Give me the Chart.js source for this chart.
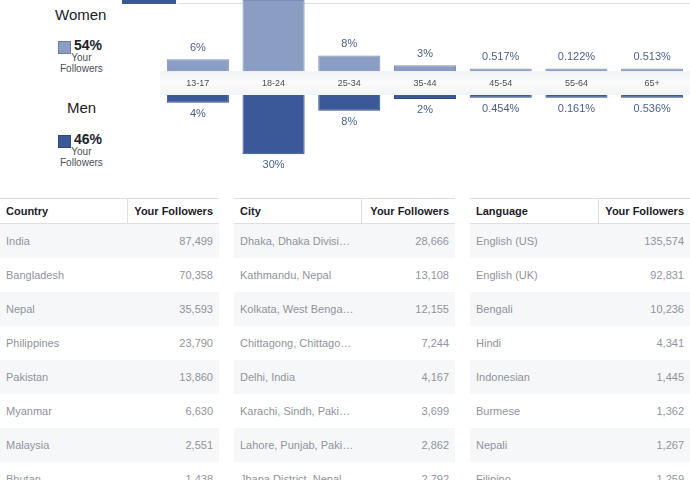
<!DOCTYPE html><html><head><meta charset="utf-8">
<script src="https://cdn.jsdelivr.net/npm/chart.js@4"></script>
<style>
body{margin:0;width:690px;height:480px;overflow:hidden;background:#fff;font-family:Arial,"Liberation Sans",sans-serif;position:relative}
#c{position:absolute;left:0;top:0}
.lg{position:absolute;color:#1d2129;text-align:center}
table{position:absolute;top:198px;border-collapse:collapse;font-size:11px;color:#90949c}
td,th{height:34px;padding:0 6px;white-space:nowrap;overflow:hidden}
th{height:24px;font-weight:bold;color:#1d2129;text-align:left;border-top:1px solid #dddfe2;border-bottom:1px solid #dddfe2}
tr:nth-child(even) td{background:#f6f7f9}
.r{text-align:right}
</style></head><body>
<div style="position:absolute;left:122px;top:0;width:54px;height:4px;background:#3b5998"></div>
<div style="position:absolute;left:178px;top:3px;width:512px;height:1px;background:#dddfe2"></div>
<div class="lg" style="left:55px;top:6px;font-size:15px">Women</div>
<div style="position:absolute;left:58px;top:41px;width:11px;height:11px;background:#8b9dc3;border:1px solid #6d7fa8"></div>
<div class="lg" style="left:74px;top:37px;font-size:14px;font-weight:bold">54%</div>
<div class="lg" style="left:60px;top:52px;font-size:10px;line-height:11px;color:#4b4f56">Your<br>Followers</div>
<div class="lg" style="left:67px;top:99px;font-size:15px">Men</div>
<div style="position:absolute;left:58px;top:135px;width:11px;height:11px;background:#3b5998;border:1px solid #2c4a82"></div>
<div class="lg" style="left:74px;top:131px;font-size:14px;font-weight:bold">46%</div>
<div class="lg" style="left:60px;top:146px;font-size:10px;line-height:11px;color:#4b4f56">Your<br>Followers</div>
<canvas id="c" width="690" height="180"></canvas>
<div id="tables"></div>
<script>
const ages=["13-17","18-24","25-34","35-44","45-54","55-64","65+"];
const women=[6,36,8,3,0.517,0.122,0.513];
const men=[4,30,8,2,0.454,0.161,0.536];
const womenLbl=["6%","","8%","3%","0.517%","0.122%","0.513%"];
const menLbl=["4%","30%","8%","2%","0.454%","0.161%","0.536%"];
const countries=["India","Bangladesh","Nepal","Philippines","Pakistan","Myanmar","Malaysia","Bhutan"];
const countryVals=["87,499","70,358","35,593","23,790","13,860","6,630","2,551","1,438"];
const cities=["Dhaka, Dhaka Division,...","Kathmandu, Nepal","Kolkata, West Bengal, I...","Chittagong, Chittagong...","Delhi, India","Karachi, Sindh, Pakistan","Lahore, Punjab, Pakistan","Jhapa District, Nepal"];
const cityVals=["28,666","13,108","12,155","7,244","4,167","3,699","2,862","2,792"];
const langs=["English (US)","English (UK)","Bengali","Hindi","Indonesian","Burmese","Nepali","Filipino"];
const langVals=["135,574","92,831","10,236","4,341","1,445","1,362","1,267","1,259"];

const G=6, MIN=1.4;
const band={id:'band',beforeDatasetsDraw(ch){const c=ch.ctx,a=ch.chartArea,y0=ch.scales.y.getPixelForValue(G),y1=ch.scales.y.getPixelForValue(-G);
 c.save();const g=c.createLinearGradient(0,y0,0,y1);g.addColorStop(0,'#f2f3f5');g.addColorStop(0.5,'#fbfbfc');g.addColorStop(1,'#f2f3f5');c.fillStyle=g;c.fillRect(a.left,y0,a.right-a.left,y1-y0);c.restore();},
 afterDatasetsDraw(ch){const c=ch.ctx,x=ch.scales.x,y=ch.scales.y;c.save();c.font='9px Arial';c.textAlign='center';c.textBaseline='middle';c.fillStyle='#4b4f56';
 ages.forEach((a,i)=>c.fillText(a,x.getPixelForValue(i),y.getPixelForValue(0)));
 c.font='11px Arial';c.fillStyle='#4b5f8c';
 ages.forEach((a,i)=>{const px=x.getPixelForValue(i);
  if(womenLbl[i])c.fillText(womenLbl[i],px,y.getPixelForValue(G+Math.max(women[i],MIN))-11);
  c.fillText(menLbl[i],px,y.getPixelForValue(-G-Math.max(men[i],MIN))+11);});
 c.restore();}};
new Chart(document.getElementById('c'),{type:'bar',
 data:{labels:ages,datasets:[
  {data:women.map(v=>[G,G+Math.max(v,MIN)]),backgroundColor:'#8b9dc3',borderColor:'#7d8fb8',borderWidth:1,barPercentage:0.82,categoryPercentage:1,grouped:false},
  {data:men.map(v=>[-G,-G-Math.max(v,MIN)]),backgroundColor:'#3b5998',borderColor:'#2f4b82',borderWidth:1,barPercentage:0.82,categoryPercentage:1,grouped:false}]},
 options:{responsive:false,animation:false,layout:{padding:{left:160,right:0,top:0,bottom:0}},
  plugins:{legend:{display:false},tooltip:{enabled:false}},
  scales:{x:{display:false},y:{display:false,min:-49,max:42}}},plugins:[band]});

function tbl(left,w,split,h1,names,vals){let s=`<table style="left:${left}px;width:${w}px"><tr><th style="border-right:1px solid #dddfe2;width:${split-12}px">${h1}</th><th class="r">Your Followers</th></tr>`;
 names.forEach((n,i)=>{s+=`<tr><td style="max-width:${split-12}px;text-overflow:ellipsis">${n}</td><td class="r">${vals[i]}</td></tr>`});return s+'</table>';}
document.getElementById('tables').innerHTML=tbl(0,219,127,"Country",countries,countryVals)+tbl(234,221,127,"City",cities,cityVals)+tbl(470,220,128,"Language",langs,langVals);
</script></body></html>
